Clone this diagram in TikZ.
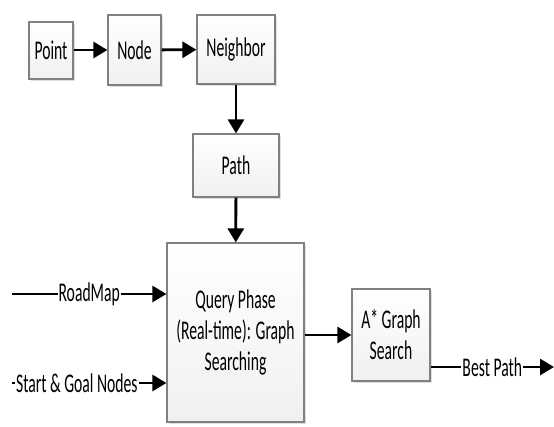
\documentclass[tikz,border=0pt]{standalone}
\usepackage{fontspec}
\setmainfont[FakeStretch=0.58]{Carlito}
\usetikzlibrary{arrows.meta, shadows}
\definecolor{boxLine}{RGB}{128, 128, 128}
\definecolor{boxFill}{RGB}{240, 240, 240}

\begin{document}
\begin{tikzpicture}[x=1pt, y=-1pt,
    font=\fontsize{27}{31}\selectfont,
    block/.style={draw=boxLine, line width=1.2pt, top color=white, bottom color=boxFill,
      align=center, inner sep=0pt,
      drop shadow={shadow xshift=2pt, shadow yshift=-2pt, opacity=0.25}},
    flow/.style={line width=2.8pt, -{Triangle[length=14pt, width=16pt]}},
    tag/.style={fill=white, inner sep=1pt}]
  \useasboundingbox (0,0) rectangle (554,426);

  \node[block, minimum width=44pt, minimum height=57pt]  (point)    at (51, 50.5)    {Point};
  \node[block, minimum width=53pt, minimum height=70pt]  (node)     at (134.5, 50)   {Node};
  \node[block, minimum width=78pt, minimum height=69pt]  (neighbor) at (236, 49.5)   {Neighbor};
  \node[block, minimum width=86pt, minimum height=63pt]  (path)     at (236, 165.5)  {Path};
  \node[block, minimum width=137pt, minimum height=179pt] (query)   at (235.5, 332.5)
    {Query Phase\\(Real-time): Graph\\Searching};
  \node[block, minimum width=78pt, minimum height=92pt]  (astar)    at (391, 335)    {A* Graph\\Search};

  \coordinate (roadmap) at (12, 294);
  \coordinate (goals)   at (12, 383);
  \coordinate (best)    at (554, 367);

  \draw[flow] (point.east |- node) -- (node);
  \draw[flow] (node) -- (neighbor);
  \draw[flow] (neighbor.south -| path) -- (path);
  \draw[flow] (path) -- (query);
  \draw[flow] (roadmap) -- node[tag] {RoadMap} (query.west |- roadmap);
  \draw[flow] (goals) -- node[tag, pos=0.42] {Start \& Goal Nodes} (query.west |- goals);
  \draw[flow] (query.east |- astar) -- (astar);
  \draw[flow] (astar.east |- best) -- node[tag] {Best Path} (best);
\end{tikzpicture}
\end{document}
